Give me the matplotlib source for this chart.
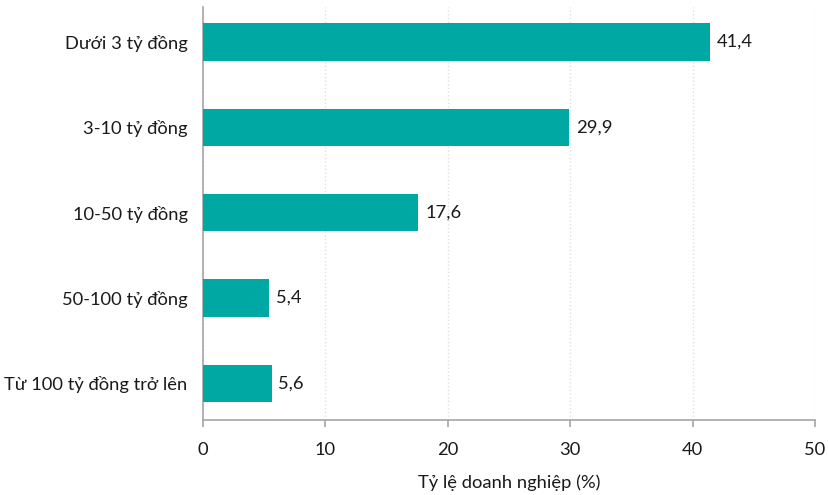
import matplotlib
matplotlib.use('Agg')
import matplotlib.pyplot as plt

# Nhóm doanh thu và tỷ lệ doanh nghiệp (%)
nhom = ['Dưới 3 tỷ đồng', '3-10 tỷ đồng', '10-50 tỷ đồng', '50-100 tỷ đồng', 'Từ 100 tỷ đồng trở lên']
ty_le = [41.4, 29.9, 17.6, 5.4, 5.6]
xticks = [0, 10, 20, 30, 40, 50]

plt.rcParams['font.family'] = ['Lato', 'DejaVu Sans']
mau = '#00a8a3'
xam = '#a6a6a6'
fs = 13.2

fig = plt.figure(figsize=(8.29, 4.95), dpi=100)
ax = fig.add_axes([0.2449, 0.1515, 0.7382, 0.8344])

pos = list(range(len(nhom)))
bars = ax.barh(pos, ty_le, height=0.435, color=mau, zorder=3)

# nhãn giá trị, dùng dấu phẩy thập phân
for b, v in zip(bars, ty_le):
    ax.text(b.get_width() + 0.55, b.get_y() + b.get_height() / 2,
            f'{v:.1f}'.replace('.', ','), va='center', ha='left',
            fontsize=fs, color='#1a1a1a')

ax.set_yticks(pos)
ax.set_yticklabels(nhom, fontsize=fs, color='#1a1a1a')
ax.set_ylim(4.43, -0.41)
ax.set_xlim(0, 50)
ax.set_xticks(xticks)
ax.set_xticklabels([str(t) for t in xticks], fontsize=fs, color='#1a1a1a')
ax.set_xlabel('Tỷ lệ doanh nghiệp (%)', fontsize=fs, color='#1a1a1a', labelpad=12)

ax.grid(axis='x', color='#e0e0e0', linestyle=':', linewidth=1, zorder=0)
for s in ['top', 'right']:
    ax.spines[s].set_visible(False)
for s in ['left', 'bottom']:
    ax.spines[s].set_color(xam)
    ax.spines[s].set_linewidth(1.2)
ax.tick_params(axis='y', length=0, pad=11)
ax.tick_params(axis='x', length=5, color=xam, width=1.2, pad=11)

fig.savefig('out.png', dpi=100)
